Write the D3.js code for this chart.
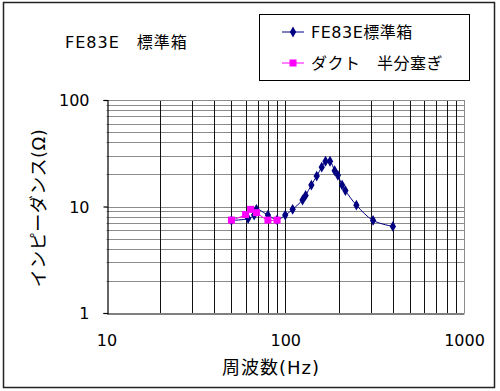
<!DOCTYPE html>
<html>
<head>
<meta charset="utf-8">
<script src="https://cdn.jsdelivr.net/npm/d3@7"></script>
<style>
body{margin:0;background:#fff;}
text{font-family:"DejaVu Sans","Noto Sans CJK JP",sans-serif;fill:#000;}
</style>
</head>
<body>
<div id="chart"></div>
<script>
// values (Hz, ohm)
var stdFreq=[50,62,67,69,80,90,100,110,125,130,140,150,160,168,178,189,197,208,217,250,310,400];
var stdOhm=[7.4,7.7,8.3,9.4,8.3,7.5,8.3,9.4,11.5,12.7,15.9,19.3,23.4,26.6,26.6,21.7,19.6,15.9,14.1,10.3,7.4,6.5];
var ductFreq=[50,60,64,69,80,90];
var ductOhm=[7.45,8.4,9.4,8.75,7.45,7.45];
var xTicks=[10,100,1000];
var yTicks=[1,10,100];
var seriesNames=['FE83E標準箱','ダクト　半分塞ぎ'];
var title='FE83E　標準箱';
var xTitle='周波数(Hz)';
var yTitle='インピーダンス(Ω)';

var W=500,H=391;
var svg=d3.select('#chart').append('svg')
    .attr('width',W).attr('height',H);

// outer frame
svg.append('rect').attr('x',3.5).attr('y',2.5).attr('width',491).attr('height',385)
    .style('fill','#fff').style('stroke','#222').style('stroke-width',1.5);

var x=d3.scaleLog().domain([10,1000]).range([106.5,464]);
var y=d3.scaleLog().domain([1,100]).range([313,100]);

// minor grid values
var minors=[];
[1,10,100].forEach(function(d){for(var k=2;k<=9;k++) minors.push(d*k);});

var grid=svg.append('g');
grid.selectAll('.hg').data(minors.filter(function(v){return v<100;}).concat([10]))
    .enter().append('line')
    .attr('x1',x(10)).attr('x2',x(1000))
    .attr('y1',function(d){return Math.round(y(d))+.5;})
    .attr('y2',function(d){return Math.round(y(d))+.5;})
    .style('stroke','#8c8c8c').style('stroke-width',1);
grid.selectAll('.vg').data(minors.filter(function(v){return v>10&&v<1000;}).concat([100]))
    .enter().append('line')
    .attr('y1',y(1)).attr('y2',y(100))
    .attr('x1',function(d){return Math.round(x(d))+.5;})
    .attr('x2',function(d){return Math.round(x(d))+.5;})
    .style('stroke','#111').style('stroke-width',1);

// plot frame
svg.append('line').attr('x1',x(10)).attr('x2',x(1000)).attr('y1',y(100)+.5).attr('y2',y(100)+.5)
    .style('stroke','#8c8c8c');
svg.append('line').attr('x1',x(1000)+.5).attr('x2',x(1000)+.5).attr('y1',y(100)).attr('y2',y(1))
    .style('stroke','#8c8c8c');

var yAxis=svg.append('g').attr('transform','translate('+(Math.round(x(10))+.5)+',0)')
    .call(d3.axisLeft(y).tickValues(yTicks).tickFormat(d3.format('d')).tickSize(4).tickPadding(14));
var xAxis=svg.append('g').attr('transform','translate(0,'+(Math.round(y(1))+.5)+')')
    .call(d3.axisBottom(x).tickValues(xTicks).tickFormat(d3.format('d')).tickSize(0).tickPadding(21));
[xAxis,yAxis].forEach(function(a){
    a.selectAll('path,line').style('stroke','#000').style('stroke-width',1.2);
    a.selectAll('text').style('font-size','16px')
        .style('font-family','"DejaVu Sans",sans-serif').attr('fill','#000');
});
yAxis.selectAll('text').attr('dy','0.35em');

var line=d3.line().x(function(d){return x(d[0]);}).y(function(d){return y(d[1]);})
    .curve(d3.curveCatmullRom.alpha(0.5));
var std=d3.zip(stdFreq,stdOhm), duct=d3.zip(ductFreq,ductOhm);

svg.append('path').attr('d',line(std)).style('fill','none').style('stroke','#000080').style('stroke-width',1);
svg.append('path').attr('d',line(duct)).style('fill','none').style('stroke','#ff00ff').style('stroke-width',1);

var diamond=d3.symbol().type(d3.symbolDiamond).size(34);
svg.selectAll('.sm').data(std).enter().append('path')
    .attr('d',diamond)
    .attr('transform',function(d){return 'translate('+x(d[0])+','+y(d[1])+')';})
    .style('fill','#000080');
svg.selectAll('.dm').data(duct).enter().append('rect')
    .attr('x',function(d){return x(d[0])-3.5;}).attr('y',function(d){return y(d[1])-3.5;})
    .attr('width',7).attr('height',7)
    .style('fill','#ff00ff');

// titles
svg.append('text').attr('x',65).attr('y',48).style('font-size','16px')
    .style('letter-spacing','1px').text(title);
svg.append('text').attr('x',271).attr('y',374).attr('text-anchor','middle')
    .style('font-size','18px').style('letter-spacing','1px').text(xTitle);
svg.append('text').attr('transform','translate(45,208) rotate(-90)').attr('text-anchor','middle')
    .style('font-size','18px').style('letter-spacing','0.5px').text(yTitle);

// legend
var lg=svg.append('g');
lg.append('rect').attr('x',259.5).attr('y',14.5).attr('width',210).attr('height',66)
    .style('fill','#fff').style('stroke','#000').style('stroke-width',1);
var colors=['#000080','#ff00ff'];
seriesNames.forEach(function(n,i){
    var ly=32+i*31;
    lg.append('line').attr('x1',282).attr('x2',304).attr('y1',ly).attr('y2',ly)
        .style('stroke',colors[i]).style('stroke-width',1);
    if(i==0) lg.append('path').attr('d',diamond).attr('transform','translate(293,'+ly+')').style('fill',colors[i]);
    else lg.append('rect').attr('x',289.5).attr('y',ly-3.5).attr('width',7).attr('height',7).style('fill',colors[i]);
    lg.append('text').attr('x',311).attr('y',ly).attr('dy','0.36em').style('font-size','16px')
        .style('letter-spacing','0.5px').text(n);
});
</script>
</body>
</html>
